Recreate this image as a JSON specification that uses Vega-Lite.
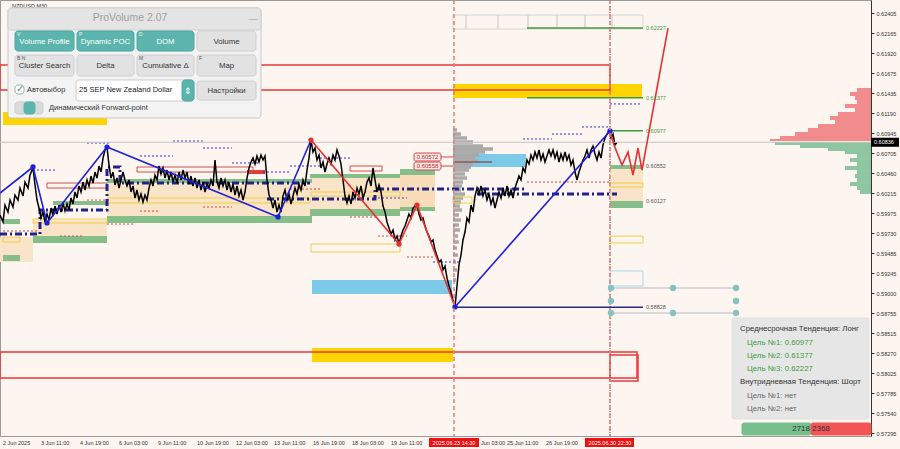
{
"$schema":"https://vega.github.io/schema/vega-lite/v6.json",
"width":871,"height":436,
"autosize":{"type":"none"},
"padding":{"left":0,"top":0,"right":29,"bottom":13},
"background":"#FDF5EF",
"config":{"view":{"stroke":"#9A9A9A","strokeWidth":1},"font":"Liberation Sans"},
"encoding":{"y":{"field":"y","type":"quantitative","scale":{"domain":[0.57262,0.62567],"nice":false,"zero":false},
   "axis":{"orient":"right","title":null,"grid":false,"values":[0.62405,0.62165,0.6192,0.61675,0.61435,0.6119,0.60945,0.60705,0.6046,0.60215,0.59975,0.5973,0.59485,0.59245,0.59,0.58755,0.58515,0.5827,0.58025,0.57785,0.5754,0.57295],"format":".5f","labelFont":"Liberation Sans","labelFontSize":5.5,"labelColor":"#333333","tickSize":3,"tickColor":"#333333","domainColor":"#333333","labelPadding":2}}},
"datasets":{
"grid":[{"t":28},{"t":58},{"t":87},{"t":116},{"t":145},{"t":174},{"t":203},{"t":232},{"t":261},{"t":290},{"t":319},{"t":348},{"t":378},{"t":407},{"t":436},{"t":465},{"t":494},{"t":523},{"t":552},{"t":582},{"t":610},{"t":640}],
"fills":[
{"x1":0,"x2":33,"y":0.59683,"y2":0.59379,"c":"#FAE4C8"},
{"x1":33,"x2":107,"y":0.59890,"y2":0.59695,"c":"#FAE4C8"},
{"x1":107,"x2":312,"y":0.60340,"y2":0.59939,"c":"#FAE4C8"},
{"x1":310,"x2":400,"y":0.60401,"y2":0.60024,"c":"#FAE4C8"},
{"x1":400,"x2":435,"y":0.60437,"y2":0.60048,"c":"#F9DDB8"},
{"x1":610,"x2":643,"y":0.60511,"y2":0.60121,"c":"#FAE4C8"},
{"x1":3,"x2":20,"y":0.59902,"y2":0.59841,"c":"#86BE8A"},
{"x1":3,"x2":20,"y":0.59464,"y2":0.59391,"c":"#86BE8A"},
{"x1":33,"x2":107,"y":0.59695,"y2":0.59610,"c":"#86BE8A"},
{"x1":107,"x2":312,"y":0.59939,"y2":0.59854,"c":"#86BE8A"},
{"x1":53,"x2":107,"y":0.60121,"y2":0.60072,"c":"#86BE8A"},
{"x1":107,"x2":312,"y":0.60389,"y2":0.60340,"c":"#86BE8A"},
{"x1":310,"x2":400,"y":0.60450,"y2":0.60401,"c":"#86BE8A"},
{"x1":400,"x2":435,"y":0.60511,"y2":0.60437,"c":"#86BE8A"},
{"x1":310,"x2":400,"y":0.60024,"y2":0.59939,"c":"#86BE8A"},
{"x1":400,"x2":435,"y":0.60048,"y2":0.60000,"c":"#86BE8A"},
{"x1":610,"x2":643,"y":0.60559,"y2":0.60511,"c":"#86BE8A"},
{"x1":610,"x2":643,"y":0.60121,"y2":0.60036,"c":"#86BE8A"},
{"x1":453,"x2":642,"y":0.61545,"y2":0.61375,"c":"#FFD400"},
{"x1":312,"x2":453,"y":0.58333,"y2":0.58162,"c":"#FFD400"},
{"x1":3,"x2":107,"y":0.61204,"y2":0.61046,"c":"#FFD400"},
{"x1":312,"x2":452,"y":0.59160,"y2":0.58990,"c":"#7DCAE8"},
{"x1":453,"x2":526,"y":0.60693,"y2":0.60535,"c":"#7DCAE8"},
{"x1":247,"x2":265,"y":0.60498,"y2":0.60450,"c":"#E8393A"}
],
"gprof":[{"x1":453,"y":0.60985,"x2":457},{"x1":453,"y":0.60936,"x2":461},{"x1":453,"y":0.60888,"x2":467},{"x1":453,"y":0.60839,"x2":473},{"x1":453,"y":0.60790,"x2":483},{"x1":453,"y":0.60754,"x2":493},{"x1":453,"y":0.60717,"x2":485},{"x1":453,"y":0.60681,"x2":479},{"x1":453,"y":0.60644,"x2":475},{"x1":453,"y":0.60608,"x2":478},{"x1":453,"y":0.60571,"x2":473},{"x1":453,"y":0.60535,"x2":471},{"x1":453,"y":0.60498,"x2":469},{"x1":453,"y":0.60450,"x2":465},{"x1":453,"y":0.60401,"x2":467},{"x1":453,"y":0.60352,"x2":463},{"x1":453,"y":0.60304,"x2":462},{"x1":453,"y":0.60255,"x2":461},{"x1":453,"y":0.60206,"x2":465},{"x1":453,"y":0.60158,"x2":463},{"x1":453,"y":0.60109,"x2":461},{"x1":453,"y":0.60060,"x2":460},{"x1":453,"y":0.60012,"x2":462},{"x1":453,"y":0.59951,"x2":459},{"x1":453,"y":0.59890,"x2":461},{"x1":453,"y":0.59829,"x2":459},{"x1":453,"y":0.59768,"x2":460},{"x1":453,"y":0.59695,"x2":458},{"x1":453,"y":0.59622,"x2":459},{"x1":453,"y":0.59549,"x2":457},{"x1":453,"y":0.59464,"x2":458},{"x1":453,"y":0.59379,"x2":456},{"x1":453,"y":0.59282,"x2":457},{"x1":453,"y":0.59160,"x2":456}],
"vprof":[
{"x1":857,"x2":871,"y":0.61496,"y2":0.61448,"c":"#F28B8B"},{"x1":850,"x2":871,"y":0.61448,"y2":0.61399,"c":"#F28B8B"},{"x1":855,"x2":871,"y":0.61399,"y2":0.61350,"c":"#F28B8B"},{"x1":857,"x2":871,"y":0.61350,"y2":0.61302,"c":"#F28B8B"},{"x1":845,"x2":871,"y":0.61302,"y2":0.61253,"c":"#F28B8B"},{"x1":855,"x2":871,"y":0.61253,"y2":0.61204,"c":"#F28B8B"},{"x1":838,"x2":871,"y":0.61204,"y2":0.61156,"c":"#F28B8B"},{"x1":830,"x2":871,"y":0.61156,"y2":0.61107,"c":"#F28B8B"},{"x1":835,"x2":871,"y":0.61107,"y2":0.61058,"c":"#F28B8B"},{"x1":818,"x2":871,"y":0.61058,"y2":0.61010,"c":"#F28B8B"},{"x1":808,"x2":871,"y":0.61010,"y2":0.60961,"c":"#F28B8B"},{"x1":795,"x2":871,"y":0.60961,"y2":0.60912,"c":"#F28B8B"},{"x1":780,"x2":871,"y":0.60912,"y2":0.60876,"c":"#F28B8B"},{"x1":770,"x2":871,"y":0.60876,"y2":0.60851,"c":"#F28B8B"},
{"x1":775,"x2":871,"y":0.60839,"y2":0.60803,"c":"#8DC6A0"},{"x1":800,"x2":871,"y":0.60803,"y2":0.60766,"c":"#8DC6A0"},{"x1":828,"x2":871,"y":0.60766,"y2":0.60730,"c":"#8DC6A0"},{"x1":845,"x2":871,"y":0.60730,"y2":0.60693,"c":"#8DC6A0"},{"x1":857,"x2":871,"y":0.60693,"y2":0.60644,"c":"#8DC6A0"},{"x1":850,"x2":871,"y":0.60644,"y2":0.60596,"c":"#8DC6A0"},{"x1":857,"x2":871,"y":0.60596,"y2":0.60547,"c":"#8DC6A0"},{"x1":845,"x2":871,"y":0.60547,"y2":0.60498,"c":"#8DC6A0"},{"x1":857,"x2":871,"y":0.60498,"y2":0.60450,"c":"#8DC6A0"},{"x1":855,"x2":871,"y":0.60450,"y2":0.60401,"c":"#8DC6A0"},{"x1":857,"x2":871,"y":0.60401,"y2":0.60352,"c":"#8DC6A0"},{"x1":850,"x2":871,"y":0.60352,"y2":0.60304,"c":"#8DC6A0"},{"x1":857,"x2":871,"y":0.60304,"y2":0.60255,"c":"#8DC6A0"},{"x1":860,"x2":871,"y":0.60255,"y2":0.60206,"c":"#8DC6A0"}
],
"outl":[
{"x1":0,"x2":610,"y":0.61776,"y2":0.61472,"c":"#E8393A","w":1.5},
{"x1":0,"x2":637,"y":0.58284,"y2":0.57968,"c":"#E8393A","w":1.5},
{"x1":610,"x2":638,"y":0.58248,"y2":0.57931,"c":"#E8393A","w":1.5},
{"x1":3,"x2":20,"y":0.59683,"y2":0.59622,"c":"#EFCF45","w":1},
{"x1":33,"x2":107,"y":0.59902,"y2":0.59854,"c":"#EFCF45","w":1},
{"x1":107,"x2":310,"y":0.60158,"y2":0.60097,"c":"#EFCF45","w":1},
{"x1":311,"x2":400,"y":0.60231,"y2":0.60182,"c":"#EFCF45","w":1},
{"x1":311,"x2":400,"y":0.59598,"y2":0.59501,"c":"#EFCF45","w":1},
{"x1":453,"x2":472,"y":0.60170,"y2":0.60097,"c":"#EFCF45","w":1},
{"x1":610,"x2":643,"y":0.60340,"y2":0.60291,"c":"#EFCF45","w":1},
{"x1":610,"x2":643,"y":0.59695,"y2":0.59610,"c":"#EFCF45","w":1},
{"x1":610,"x2":643,"y":0.59270,"y2":0.59087,"c":"#A8D8E8","w":1},
{"x1":47,"x2":107,"y":0.60340,"y2":0.60279,"c":"#D0504A","w":1},
{"x1":137,"x2":253,"y":0.60535,"y2":0.60474,"c":"#D0504A","w":1},
{"x1":350,"x2":382,"y":0.60547,"y2":0.60486,"c":"#D0504A","w":1},
{"x1":453,"x2":466,"y":0.62384,"y2":0.62214,"c":"#D6D6D6","w":1},
{"x1":466,"x2":498,"y":0.62384,"y2":0.62214,"c":"#D6D6D6","w":1},
{"x1":498,"x2":528,"y":0.62384,"y2":0.62214,"c":"#D6D6D6","w":1},
{"x1":528,"x2":557,"y":0.62384,"y2":0.62214,"c":"#D6D6D6","w":1},
{"x1":557,"x2":585,"y":0.62384,"y2":0.62214,"c":"#D6D6D6","w":1},
{"x1":585,"x2":612,"y":0.62384,"y2":0.62214,"c":"#D6D6D6","w":1},
{"x1":612,"x2":643,"y":0.62384,"y2":0.62214,"c":"#D6D6D6","w":1}
],
"dash":[
{"x1":33,"x2":57,"y":0.60498,"c":"#3535D0"},{"x1":87,"x2":110,"y":0.60827,"c":"#3535D0"},{"x1":140,"x2":173,"y":0.60669,"c":"#3535D0"},{"x1":173,"x2":203,"y":0.60851,"c":"#3535D0"},{"x1":203,"x2":232,"y":0.60766,"c":"#3535D0"},{"x1":232,"x2":260,"y":0.60584,"c":"#3535D0"},{"x1":263,"x2":290,"y":0.60474,"c":"#3535D0"},{"x1":290,"x2":320,"y":0.60547,"c":"#3535D0"},{"x1":320,"x2":350,"y":0.60644,"c":"#3535D0"},{"x1":378,"x2":407,"y":0.60158,"c":"#3535D0"},{"x1":433,"x2":460,"y":0.59379,"c":"#3535D0"},{"x1":523,"x2":552,"y":0.60876,"c":"#3535D0"},{"x1":552,"x2":582,"y":0.60936,"c":"#3535D0"},{"x1":582,"x2":610,"y":0.61022,"c":"#3535D0"},{"x1":610,"x2":640,"y":0.61302,"c":"#3535D0"},
{"x1":3,"x2":37,"y":0.59756,"c":"#D04848"},{"x1":60,"x2":83,"y":0.59695,"c":"#D04848"},{"x1":87,"x2":110,"y":0.60133,"c":"#D04848"},{"x1":107,"x2":133,"y":0.59841,"c":"#D04848"},{"x1":140,"x2":160,"y":0.59999,"c":"#D04848"},{"x1":203,"x2":232,"y":0.60048,"c":"#D04848"},{"x1":290,"x2":320,"y":0.60267,"c":"#D04848"},{"x1":350,"x2":378,"y":0.59927,"c":"#D04848"},{"x1":378,"x2":407,"y":0.59695,"c":"#D04848"},{"x1":407,"x2":435,"y":0.59440,"c":"#D04848"},{"x1":527,"x2":610,"y":0.60352,"c":"#D04848"}
],
"navy":[
{"t":0,"y":0.59720,"g":"a","o":1},{"t":40,"y":0.59720,"g":"a","o":2},{"t":40,"y":0.60012,"g":"a","o":3},{"t":107,"y":0.60012,"g":"a","o":4},{"t":107,"y":0.60535,"g":"a","o":5},{"t":120,"y":0.60535,"g":"a","o":6},{"t":120,"y":0.60340,"g":"a","o":7},{"t":310,"y":0.60340,"g":"a","o":8},
{"t":267,"y":0.60146,"g":"b","o":1},{"t":375,"y":0.60146,"g":"b","o":2},{"t":375,"y":0.60267,"g":"b","o":3},{"t":527,"y":0.60267,"g":"b","o":4},
{"t":477,"y":0.60206,"g":"c","o":1},{"t":617,"y":0.60206,"g":"c","o":2}
],
"px":[
{"t":0,"y":0.59951},{"t":3,"y":0.59866},{"t":5,"y":0.60072},{"t":8,"y":0.59987},{"t":10,"y":0.60133},{"t":13,"y":0.60048},{"t":15,"y":0.60194},{"t":18,"y":0.60133},{"t":20,"y":0.60279},{"t":23,"y":0.60182},{"t":25,"y":0.60352},{"t":28,"y":0.60279},{"t":30,"y":0.60437},{"t":33,"y":0.60523},{"t":35,"y":0.60316},{"t":37,"y":0.60133},{"t":39,"y":0.60036},{"t":41,"y":0.59914},{"t":43,"y":0.59987},{"t":45,"y":0.59866},{"t":47,"y":0.59963},{"t":49,"y":0.59890},{"t":51,"y":0.60036},{"t":53,"y":0.59939},{"t":55,"y":0.60060},{"t":57,"y":0.59963},{"t":59,"y":0.60072},{"t":61,"y":0.59987},{"t":63,"y":0.60097},{"t":65,"y":0.60000},{"t":67,"y":0.60085},{"t":69,"y":0.60012},{"t":71,"y":0.60158},{"t":73,"y":0.60085},{"t":75,"y":0.60231},{"t":77,"y":0.60158},{"t":79,"y":0.60304},{"t":81,"y":0.60231},{"t":83,"y":0.60352},{"t":85,"y":0.60255},{"t":87,"y":0.60377},{"t":89,"y":0.60304},{"t":91,"y":0.60425},{"t":93,"y":0.60340},{"t":95,"y":0.60474},{"t":97,"y":0.60401},{"t":99,"y":0.60547},{"t":101,"y":0.60474},{"t":103,"y":0.60644},{"t":105,"y":0.60742},{"t":107,"y":0.60778},{"t":109,"y":0.60559},{"t":111,"y":0.60401},{"t":113,"y":0.60474},{"t":115,"y":0.60316},{"t":117,"y":0.60401},{"t":119,"y":0.60279},{"t":121,"y":0.60377},{"t":123,"y":0.60474},{"t":125,"y":0.60377},{"t":127,"y":0.60304},{"t":129,"y":0.60377},{"t":131,"y":0.60231},{"t":133,"y":0.60304},{"t":135,"y":0.60158},{"t":137,"y":0.60255},{"t":139,"y":0.60133},{"t":141,"y":0.60206},{"t":143,"y":0.60109},{"t":145,"y":0.60194},{"t":147,"y":0.60133},{"t":149,"y":0.60279},{"t":151,"y":0.60377},{"t":153,"y":0.60304},{"t":155,"y":0.60437},{"t":157,"y":0.60377},{"t":159,"y":0.60547},{"t":161,"y":0.60450},{"t":163,"y":0.60523},{"t":165,"y":0.60401},{"t":167,"y":0.60498},{"t":169,"y":0.60377},{"t":171,"y":0.60474},{"t":173,"y":0.60352},{"t":175,"y":0.60437},{"t":177,"y":0.60340},{"t":179,"y":0.60474},{"t":181,"y":0.60377},{"t":183,"y":0.60498},{"t":185,"y":0.60401},{"t":187,"y":0.60474},{"t":189,"y":0.60328},{"t":191,"y":0.60425},{"t":193,"y":0.60304},{"t":195,"y":0.60401},{"t":197,"y":0.60279},{"t":199,"y":0.60377},{"t":201,"y":0.60255},{"t":203,"y":0.60352},{"t":205,"y":0.60231},{"t":207,"y":0.60328},{"t":209,"y":0.60279},{"t":211,"y":0.60377},{"t":213,"y":0.60304},{"t":215,"y":0.60620},{"t":217,"y":0.60352},{"t":219,"y":0.60279},{"t":221,"y":0.60401},{"t":223,"y":0.60304},{"t":225,"y":0.60377},{"t":227,"y":0.60255},{"t":229,"y":0.60352},{"t":231,"y":0.60231},{"t":233,"y":0.60328},{"t":235,"y":0.60194},{"t":237,"y":0.60304},{"t":239,"y":0.60182},{"t":241,"y":0.60255},{"t":243,"y":0.60133},{"t":245,"y":0.60231},{"t":247,"y":0.60401},{"t":249,"y":0.60523},{"t":251,"y":0.60596},{"t":253,"y":0.60644},{"t":255,"y":0.60571},{"t":257,"y":0.60669},{"t":259,"y":0.60596},{"t":261,"y":0.60681},{"t":263,"y":0.60620},{"t":265,"y":0.60669},{"t":267,"y":0.60377},{"t":269,"y":0.60194},{"t":271,"y":0.60133},{"t":273,"y":0.60036},{"t":275,"y":0.60133},{"t":277,"y":0.59987},{"t":279,"y":0.60072},{"t":281,"y":0.59987},{"t":283,"y":0.60182},{"t":285,"y":0.60255},{"t":287,"y":0.60133},{"t":289,"y":0.60206},{"t":291,"y":0.60085},{"t":293,"y":0.60182},{"t":295,"y":0.60279},{"t":297,"y":0.60206},{"t":299,"y":0.60328},{"t":301,"y":0.60255},{"t":303,"y":0.60377},{"t":305,"y":0.60304},{"t":307,"y":0.60498},{"t":309,"y":0.60644},{"t":311,"y":0.60863},{"t":313,"y":0.60717},{"t":315,"y":0.60766},{"t":317,"y":0.60620},{"t":319,"y":0.60681},{"t":321,"y":0.60523},{"t":323,"y":0.60596},{"t":325,"y":0.60474},{"t":327,"y":0.60571},{"t":329,"y":0.60644},{"t":331,"y":0.60571},{"t":333,"y":0.60681},{"t":335,"y":0.60620},{"t":337,"y":0.60742},{"t":339,"y":0.60669},{"t":341,"y":0.60571},{"t":343,"y":0.60377},{"t":345,"y":0.60182},{"t":347,"y":0.60097},{"t":349,"y":0.60182},{"t":351,"y":0.60085},{"t":353,"y":0.60231},{"t":355,"y":0.60158},{"t":357,"y":0.60279},{"t":359,"y":0.60206},{"t":361,"y":0.60304},{"t":363,"y":0.60158},{"t":365,"y":0.60231},{"t":367,"y":0.60352},{"t":369,"y":0.60401},{"t":371,"y":0.60304},{"t":373,"y":0.60523},{"t":375,"y":0.60377},{"t":377,"y":0.60231},{"t":379,"y":0.60316},{"t":381,"y":0.60231},{"t":383,"y":0.60060},{"t":385,"y":0.59987},{"t":387,"y":0.59866},{"t":389,"y":0.59793},{"t":391,"y":0.59720},{"t":393,"y":0.59768},{"t":395,"y":0.59647},{"t":397,"y":0.59695},{"t":399,"y":0.59598},{"t":401,"y":0.59695},{"t":403,"y":0.59768},{"t":405,"y":0.59817},{"t":407,"y":0.59890},{"t":409,"y":0.59963},{"t":411,"y":0.59914},{"t":413,"y":0.60036},{"t":415,"y":0.60060},{"t":417,"y":0.60072},{"t":419,"y":0.59963},{"t":421,"y":0.59890},{"t":423,"y":0.59914},{"t":425,"y":0.59817},{"t":427,"y":0.59744},{"t":429,"y":0.59695},{"t":431,"y":0.59622},{"t":433,"y":0.59647},{"t":435,"y":0.59525},{"t":437,"y":0.59452},{"t":439,"y":0.59379},{"t":441,"y":0.59403},{"t":443,"y":0.59282},{"t":445,"y":0.59330},{"t":447,"y":0.59185},{"t":449,"y":0.59087},{"t":451,"y":0.59014},{"t":453,"y":0.58917},{"t":455,"y":0.58832},{"t":457,"y":0.59087},{"t":459,"y":0.59343},{"t":461,"y":0.59464},{"t":463,"y":0.59647},{"t":465,"y":0.59744},{"t":467,"y":0.59914},{"t":469,"y":0.59866},{"t":471,"y":0.60072},{"t":473,"y":0.59987},{"t":475,"y":0.60182},{"t":477,"y":0.60279},{"t":479,"y":0.60206},{"t":481,"y":0.60304},{"t":483,"y":0.60182},{"t":485,"y":0.60255},{"t":487,"y":0.60133},{"t":489,"y":0.60206},{"t":491,"y":0.60085},{"t":493,"y":0.60158},{"t":495,"y":0.60036},{"t":497,"y":0.60133},{"t":499,"y":0.60231},{"t":501,"y":0.60158},{"t":503,"y":0.60279},{"t":505,"y":0.60182},{"t":507,"y":0.60304},{"t":509,"y":0.60182},{"t":511,"y":0.60255},{"t":513,"y":0.60158},{"t":515,"y":0.60279},{"t":517,"y":0.60352},{"t":519,"y":0.60425},{"t":521,"y":0.60377},{"t":523,"y":0.60523},{"t":525,"y":0.60474},{"t":527,"y":0.60620},{"t":529,"y":0.60571},{"t":531,"y":0.60681},{"t":533,"y":0.60620},{"t":535,"y":0.60717},{"t":537,"y":0.60644},{"t":539,"y":0.60742},{"t":541,"y":0.60620},{"t":543,"y":0.60693},{"t":545,"y":0.60596},{"t":547,"y":0.60669},{"t":549,"y":0.60742},{"t":551,"y":0.60669},{"t":553,"y":0.60742},{"t":555,"y":0.60644},{"t":557,"y":0.60717},{"t":559,"y":0.60596},{"t":561,"y":0.60693},{"t":563,"y":0.60620},{"t":565,"y":0.60717},{"t":567,"y":0.60620},{"t":569,"y":0.60681},{"t":571,"y":0.60559},{"t":573,"y":0.60620},{"t":575,"y":0.60474},{"t":577,"y":0.60377},{"t":579,"y":0.60474},{"t":581,"y":0.60547},{"t":583,"y":0.60620},{"t":585,"y":0.60669},{"t":587,"y":0.60742},{"t":589,"y":0.60644},{"t":591,"y":0.60742},{"t":593,"y":0.60790},{"t":595,"y":0.60693},{"t":597,"y":0.60620},{"t":599,"y":0.60717},{"t":601,"y":0.60644},{"t":603,"y":0.60803},{"t":605,"y":0.60888},{"t":607,"y":0.60936},{"t":609,"y":0.60973},{"t":611,"y":0.60888},{"t":613,"y":0.60936},{"t":615,"y":0.60803},{"t":617,"y":0.60836}
],
"solid":[
{"x1":0,"x2":871,"y":0.60836,"c":"#C4C4C4","w":1},
{"x1":527,"x2":643,"y":0.62227,"c":"#3F9A3F","w":1.5},
{"x1":527,"x2":643,"y":0.61377,"c":"#3F9A3F","w":1.5},
{"x1":610,"x2":643,"y":0.60977,"c":"#3F9A3F","w":1.5},
{"x1":455,"x2":643,"y":0.58828,"c":"#2B2B8C","w":1.5},
{"x1":441,"x2":453,"y":0.60657,"c":"#D04848","w":1},
{"x1":441,"x2":453,"y":0.60547,"c":"#D04848","w":1},
{"x1":453,"x2":492,"y":0.60596,"c":"#8B5A5A","w":1.5}
],
"zig":[
{"t":0,"y":0.60218,"g":"a","o":1,"c":"#1F1FE0"},{"t":33,"y":0.60535,"g":"a","o":2,"c":"#1F1FE0"},{"t":47,"y":0.59854,"g":"a","o":3,"c":"#1F1FE0"},{"t":107,"y":0.60778,"g":"a","o":4,"c":"#1F1FE0"},{"t":278,"y":0.59927,"g":"a","o":5,"c":"#1F1FE0"},{"t":311,"y":0.60863,"g":"a","o":6,"c":"#1F1FE0"},
{"t":311,"y":0.60863,"g":"b","o":1,"c":"#E83030"},{"t":399,"y":0.59598,"g":"b","o":2,"c":"#E83030"},{"t":417,"y":0.60072,"g":"b","o":3,"c":"#E83030"},{"t":455,"y":0.58832,"g":"b","o":4,"c":"#E83030"},
{"t":455,"y":0.58832,"g":"c","o":1,"c":"#1F1FE0"},{"t":610,"y":0.60973,"g":"c","o":2,"c":"#1F1FE0"},
{"t":610,"y":0.60973,"g":"d","o":1,"c":"#E83030"},{"t":614,"y":0.60803,"g":"d","o":2,"c":"#E83030"},{"t":622,"y":0.60559,"g":"d","o":3,"c":"#E83030"},{"t":628,"y":0.60717,"g":"d","o":4,"c":"#E83030"},{"t":633,"y":0.60437,"g":"d","o":5,"c":"#E83030"},{"t":638,"y":0.60766,"g":"d","o":6,"c":"#E83030"},{"t":642,"y":0.60498,"g":"d","o":7,"c":"#E83030"},{"t":668,"y":0.62226,"g":"d","o":8,"c":"#E83030"}
],
"dots":[
{"t":33,"y":0.60535,"c":"#1F1FE0"},{"t":47,"y":0.59854,"c":"#1F1FE0"},{"t":107,"y":0.60778,"c":"#1F1FE0"},{"t":278,"y":0.59927,"c":"#1F1FE0"},{"t":455,"y":0.58832,"c":"#1F1FE0"},{"t":610,"y":0.60973,"c":"#1F1FE0"},
{"t":311,"y":0.60863,"c":"#E83030"},{"t":399,"y":0.59598,"c":"#E83030"},{"t":417,"y":0.60072,"c":"#E83030"}
],
"tline":[{"x1":611,"x2":736,"y":0.59063},{"x1":611,"x2":736,"y":0.58759}],
"tdots":[{"t":611,"y":0.59063},{"t":673,"y":0.59063},{"t":736,"y":0.59063},{"t":611,"y":0.58905},{"t":736,"y":0.58905},{"t":611,"y":0.58759},{"t":673,"y":0.58759},{"t":736,"y":0.58759}],
"vlines":[{"t":454,"y":0.62567,"y2":0.57262},{"t":610,"y":0.62567,"y2":0.57262}],
"boxes":[
{"x1":414,"x2":441,"y":0.60705,"y2":0.60608,"f":"#FBE6E6","s":"#D04848"},
{"x1":414,"x2":441,"y":0.60596,"y2":0.60498,"f":"#FBE6E6","s":"#D04848"},
{"x1":732,"x2":869,"y":0.58698,"y2":0.57469,"f":"#E6E6E6","s":"#E2E2E2"},
{"x1":742,"x2":811,"y":0.57420,"y2":0.57274,"f":"#79BF8E","s":"#79BF8E"},
{"x1":811,"x2":871,"y":0.57420,"y2":0.57274,"f":"#F25555","s":"#F25555"}
],
"tl":[
{"x":646,"y":0.62227,"s":"0.62227","c":"#3F9A3F","z":5.5},
{"x":646,"y":0.61377,"s":"0.61377","c":"#3F9A3F","z":5.5},
{"x":646,"y":0.60977,"s":"0.60977","c":"#3F9A3F","z":5.5},
{"x":646,"y":0.60552,"s":"0.60552","c":"#555555","z":5.5},
{"x":646,"y":0.60127,"s":"0.60127","c":"#555555","z":5.5},
{"x":646,"y":0.58828,"s":"0.58828","c":"#555555","z":5.5},
{"x":740,"y":0.58565,"s":"Среднесрочная Тенденция: Лонг","c":"#333333","z":7.8},
{"x":747,"y":0.58394,"s":"Цель №1: 0.60977","c":"#3E9B3E","z":7.8},
{"x":747,"y":0.58236,"s":"Цель №2: 0.61377","c":"#3E9B3E","z":7.8},
{"x":747,"y":0.58077,"s":"Цель №3: 0.62227","c":"#3E9B3E","z":7.8},
{"x":740,"y":0.57919,"s":"Внутридневная Тенденция: Шорт","c":"#333333","z":7.8},
{"x":747,"y":0.57749,"s":"Цель №1: нет","c":"#666666","z":7.8},
{"x":747,"y":0.57591,"s":"Цель №2: нет","c":"#666666","z":7.8},
{"x":812,"y":0.57347,"s":"2368","c":"#333333","z":8},
{"x":12,"y":0.62494,"s":"NZDUSD,M30","c":"#333333","z":5.5}
],
"tr":[{"x":810,"y":0.57347,"s":"2718","c":"#333333","z":8}],
"tc":[
{"x":427.5,"y":0.60657,"s":"0.60572","c":"#C03030","z":6},
{"x":427.5,"y":0.60547,"s":"0.60558","c":"#C03030","z":6}
],
"pr":[
{"x1":8,"x2":261,"y":0.62470,"y2":0.61131,"f":"#F3F3F3","s":"#C8C8C8"},
{"x1":8,"x2":261,"y":0.62470,"y2":0.62202,"f":"#E4E4E4","s":"#D0D0D0"},
{"x1":15,"x2":74,"y":0.62190,"y2":0.61946,"f":"#5BB5AE","s":"#4FA59F"},
{"x1":77,"x2":134,"y":0.62190,"y2":0.61946,"f":"#5BB5AE","s":"#4FA59F"},
{"x1":137,"x2":194,"y":0.62190,"y2":0.61946,"f":"#5BB5AE","s":"#4FA59F"},
{"x1":197,"x2":256,"y":0.62190,"y2":0.61946,"f":"#E2E2E2","s":"#CFCFCF"},
{"x1":15,"x2":74,"y":0.61898,"y2":0.61642,"f":"#E2E2E2","s":"#CFCFCF"},
{"x1":77,"x2":134,"y":0.61898,"y2":0.61642,"f":"#E2E2E2","s":"#CFCFCF"},
{"x1":137,"x2":194,"y":0.61898,"y2":0.61642,"f":"#E2E2E2","s":"#CFCFCF"},
{"x1":197,"x2":256,"y":0.61898,"y2":0.61642,"f":"#E2E2E2","s":"#CFCFCF"},
{"x1":76,"x2":194,"y":0.61594,"y2":0.61338,"f":"#FFFFFF","s":"#CCCCCC"},
{"x1":182,"x2":194,"y":0.61594,"y2":0.61338,"f":"#5BB5AE","s":"#4FA59F"},
{"x1":197,"x2":256,"y":0.61581,"y2":0.61350,"f":"#E2E2E2","s":"#CFCFCF"},
{"x1":15,"x2":24,"y":0.61533,"y2":0.61423,"f":"#FFFFFF","s":"#AAAAAA"},
{"x1":15,"x2":43,"y":0.61326,"y2":0.61180,"f":"#DADADA","s":"#CCCCCC"},
{"x1":24,"x2":35,"y":0.61326,"y2":0.61180,"f":"#5BB5AE","s":"#5BB5AE"}
],
"pc":[
{"x":130,"y":0.62348,"s":"ProVolume 2.07","c":"#9E9E9E","z":10.5},
{"x":253,"y":0.62336,"s":"—","c":"#999999","z":9},
{"x":44.5,"y":0.62056,"s":"Volume Profile","c":"#FFFFFF","z":7.8},
{"x":105.5,"y":0.62056,"s":"Dynamic POC","c":"#FFFFFF","z":7.8},
{"x":165.5,"y":0.62056,"s":"DOM","c":"#FFFFFF","z":7.8},
{"x":226.5,"y":0.62056,"s":"Volume","c":"#333333","z":7.8},
{"x":44.5,"y":0.61764,"s":"Cluster Search","c":"#333333","z":7.8},
{"x":105.5,"y":0.61764,"s":"Delta","c":"#333333","z":7.8},
{"x":165.5,"y":0.61764,"s":"Cumulative Δ","c":"#333333","z":7.8},
{"x":226.5,"y":0.61764,"s":"Map","c":"#333333","z":7.8},
{"x":226.5,"y":0.61460,"s":"Настройки","c":"#333333","z":7.8},
{"x":188,"y":0.61460,"s":"⇕","c":"#FFFFFF","z":9},
{"x":19.5,"y":0.61484,"s":"✓","c":"#3AA69E","z":10}
],
"pl":[
{"x":27,"y":0.61472,"s":"Автовыбор","c":"#333333","z":7.5},
{"x":79,"y":0.61472,"s":"25 SEP New Zealand Dollar","c":"#222222","z":7.5},
{"x":49,"y":0.61253,"s":"Динамический Forward-point","c":"#333333","z":7.5},
{"x":17,"y":0.62154,"s":"V","c":"#E8F6F5","z":5},
{"x":79,"y":0.62154,"s":"P","c":"#E8F6F5","z":5},
{"x":139,"y":0.62154,"s":"D","c":"#E8F6F5","z":5},
{"x":17,"y":0.61861,"s":"B  N","c":"#555555","z":5},
{"x":139,"y":0.61861,"s":"M","c":"#555555","z":5},
{"x":199,"y":0.61861,"s":"F","c":"#555555","z":5}
],
"xl":[
{"t":3,"y":0.57262,"s":"2 Jun 2025"},{"t":41,"y":0.57262,"s":"3 Jun 11:00"},{"t":80,"y":0.57262,"s":"4 Jun 19:00"},{"t":119,"y":0.57262,"s":"6 Jun 03:00"},{"t":158,"y":0.57262,"s":"9 Jun 11:00"},{"t":197,"y":0.57262,"s":"10 Jun 19:00"},{"t":236,"y":0.57262,"s":"12 Jun 03:00"},{"t":274,"y":0.57262,"s":"13 Jun 11:00"},{"t":313,"y":0.57262,"s":"16 Jun 19:00"},{"t":352,"y":0.57262,"s":"18 Jun 03:00"},{"t":391,"y":0.57262,"s":"19 Jun 11:00"},{"t":481,"y":0.57262,"s":"Jun 03:00"},{"t":507,"y":0.57262,"s":"25 Jun 11:00"},{"t":546,"y":0.57262,"s":"26 Jun 19:00"}
],
"xh":[{"x1":429,"x2":479,"t":454,"y":0.57262,"s":"2025.06.23 14:30"},{"x1":585,"x2":634,"t":610,"y":0.57262,"s":"2025.06.30 22:30"}],
"tagr":[{"a":871,"y":0.60891,"y2":0.60781}],
"tagt":[{"a":871,"y":0.60836,"s":"0.60836"}]
},
"layer":[
{"data":{"name":"grid"},"transform":[{"lookup":"t","from":{"data":{"name":"vlines"},"key":"t","fields":["y","y2"]},"default":null}],"mark":{"type":"rule","stroke":"#4A4A4A","strokeDash":[1,2],"strokeWidth":1},
 "encoding":{"x":{"field":"t","type":"quantitative","scale":{"domain":[0,871],"nice":false,"zero":false},"axis":null},"y":{"datum":0.62567},"y2":{"datum":0.57262}}},
{"data":{"name":"fills"},"mark":{"type":"rect"},
 "encoding":{"x":{"field":"x1","type":"quantitative","axis":null},"x2":{"field":"x2"},"y2":{"field":"y2"},"fill":{"field":"c","type":"nominal","scale":null}}},
{"data":{"name":"gprof"},"mark":{"type":"rule","stroke":"#A9A9A9","strokeWidth":3.5},
 "encoding":{"x":{"field":"x1","type":"quantitative","axis":null},"x2":{"field":"x2"}}},
{"data":{"name":"vprof"},"mark":{"type":"rect"},
 "encoding":{"x":{"field":"x1","type":"quantitative","axis":null},"x2":{"field":"x2"},"y2":{"field":"y2"},"fill":{"field":"c","type":"nominal","scale":null}}},
{"data":{"name":"outl"},"mark":{"type":"rect","fillOpacity":0},
 "encoding":{"x":{"field":"x1","type":"quantitative","axis":null},"x2":{"field":"x2"},"y2":{"field":"y2"},"stroke":{"field":"c","type":"nominal","scale":null},"strokeWidth":{"field":"w","type":"quantitative","scale":null}}},
{"data":{"name":"dash"},"mark":{"type":"rule","strokeDash":[2,2],"strokeWidth":1},
 "encoding":{"x":{"field":"x1","type":"quantitative","axis":null},"x2":{"field":"x2"},"stroke":{"field":"c","type":"nominal","scale":null}}},
{"data":{"name":"navy"},"mark":{"type":"line","stroke":"#22228C","strokeWidth":3,"strokeDash":[7,3,2,3]},
 "encoding":{"x":{"field":"t","type":"quantitative","axis":null},"detail":{"field":"g","type":"nominal"},"order":{"field":"o","type":"quantitative"}}},
{"data":{"name":"px"},"mark":{"type":"line","stroke":"#000000","strokeWidth":1.5},
 "encoding":{"x":{"field":"t","type":"quantitative","axis":null}}},
{"data":{"name":"solid"},"mark":{"type":"rule"},
 "encoding":{"x":{"field":"x1","type":"quantitative","axis":null},"x2":{"field":"x2"},"stroke":{"field":"c","type":"nominal","scale":null},"strokeWidth":{"field":"w","type":"quantitative","scale":null}}},
{"data":{"name":"zig"},"mark":{"type":"line","strokeWidth":1.6},
 "encoding":{"x":{"field":"t","type":"quantitative","axis":null},"detail":{"field":"g","type":"nominal"},"order":{"field":"o","type":"quantitative"},"stroke":{"field":"c","type":"nominal","scale":null}}},
{"data":{"name":"dots"},"mark":{"type":"point","filled":true,"size":28,"opacity":1},
 "encoding":{"x":{"field":"t","type":"quantitative","axis":null},"color":{"field":"c","type":"nominal","scale":null}}},
{"data":{"name":"vlines"},"mark":{"type":"rule","stroke":"#E07C7C","strokeDash":[4,3],"strokeWidth":1.5},
 "encoding":{"x":{"field":"t","type":"quantitative","axis":null},"y2":{"field":"y2"}}},
{"data":{"name":"tline"},"mark":{"type":"rule","stroke":"#D9D9D9","strokeWidth":2},
 "encoding":{"x":{"field":"x1","type":"quantitative","axis":null},"x2":{"field":"x2"}}},
{"data":{"name":"tdots"},"mark":{"type":"point","filled":true,"size":40,"color":"#86C2C2","opacity":1},
 "encoding":{"x":{"field":"t","type":"quantitative","axis":null}}},
{"data":{"name":"boxes"},"mark":{"type":"rect","cornerRadius":2},
 "encoding":{"x":{"field":"x1","type":"quantitative","axis":null},"x2":{"field":"x2"},"y2":{"field":"y2"},"fill":{"field":"f","type":"nominal","scale":null},"stroke":{"field":"s","type":"nominal","scale":null}}},
{"data":{"name":"tl"},"mark":{"type":"text","align":"left","baseline":"middle","font":"Liberation Sans"},
 "encoding":{"x":{"field":"x","type":"quantitative","axis":null},"text":{"field":"s","type":"nominal"},"color":{"field":"c","type":"nominal","scale":null},"size":{"field":"z","type":"quantitative","scale":null}}},
{"data":{"name":"tr"},"mark":{"type":"text","align":"right","baseline":"middle","font":"Liberation Sans"},
 "encoding":{"x":{"field":"x","type":"quantitative","axis":null},"text":{"field":"s","type":"nominal"},"color":{"field":"c","type":"nominal","scale":null},"size":{"field":"z","type":"quantitative","scale":null}}},
{"data":{"name":"tc"},"mark":{"type":"text","align":"center","baseline":"middle","font":"Liberation Sans"},
 "encoding":{"x":{"field":"x","type":"quantitative","axis":null},"text":{"field":"s","type":"nominal"},"color":{"field":"c","type":"nominal","scale":null},"size":{"field":"z","type":"quantitative","scale":null}}},
{"data":{"name":"pr"},"mark":{"type":"rect","cornerRadius":3},
 "encoding":{"x":{"field":"x1","type":"quantitative","axis":null},"x2":{"field":"x2"},"y2":{"field":"y2"},"fill":{"field":"f","type":"nominal","scale":null},"stroke":{"field":"s","type":"nominal","scale":null}}},
{"data":{"name":"pc"},"mark":{"type":"text","align":"center","baseline":"middle","font":"Liberation Sans"},
 "encoding":{"x":{"field":"x","type":"quantitative","axis":null},"text":{"field":"s","type":"nominal"},"color":{"field":"c","type":"nominal","scale":null},"size":{"field":"z","type":"quantitative","scale":null}}},
{"data":{"name":"pl"},"mark":{"type":"text","align":"left","baseline":"middle","font":"Liberation Sans"},
 "encoding":{"x":{"field":"x","type":"quantitative","axis":null},"text":{"field":"s","type":"nominal"},"color":{"field":"c","type":"nominal","scale":null},"size":{"field":"z","type":"quantitative","scale":null}}},
{"data":{"name":"xl"},"mark":{"type":"text","align":"left","baseline":"middle","dy":7,"fontSize":5.5,"color":"#333333","font":"Liberation Sans"},
 "encoding":{"x":{"field":"t","type":"quantitative","axis":null},"text":{"field":"s","type":"nominal"}}},
{"data":{"name":"xh"},"mark":{"type":"rect","fill":"#EE1111","yOffset":2,"y2Offset":11},
 "encoding":{"x":{"field":"x1","type":"quantitative","axis":null},"x2":{"field":"x2"},"y2":{"field":"y"}}},
{"data":{"name":"xh"},"mark":{"type":"text","align":"center","baseline":"middle","dy":7,"fontSize":5.5,"color":"#FFFFFF","font":"Liberation Sans"},
 "encoding":{"x":{"field":"t","type":"quantitative","axis":null},"text":{"field":"s","type":"nominal"}}},
{"data":{"name":"tagr"},"mark":{"type":"rect","fill":"#000000","x2Offset":28},
 "encoding":{"x":{"field":"a","type":"quantitative","axis":null},"x2":{"field":"a"},"y2":{"field":"y2"}}},
{"data":{"name":"tagt"},"mark":{"type":"text","align":"left","baseline":"middle","dx":3,"fontSize":5.5,"color":"#FFFFFF","font":"Liberation Sans"},
 "encoding":{"x":{"field":"a","type":"quantitative","axis":null},"text":{"field":"s","type":"nominal"}}}
]
}
